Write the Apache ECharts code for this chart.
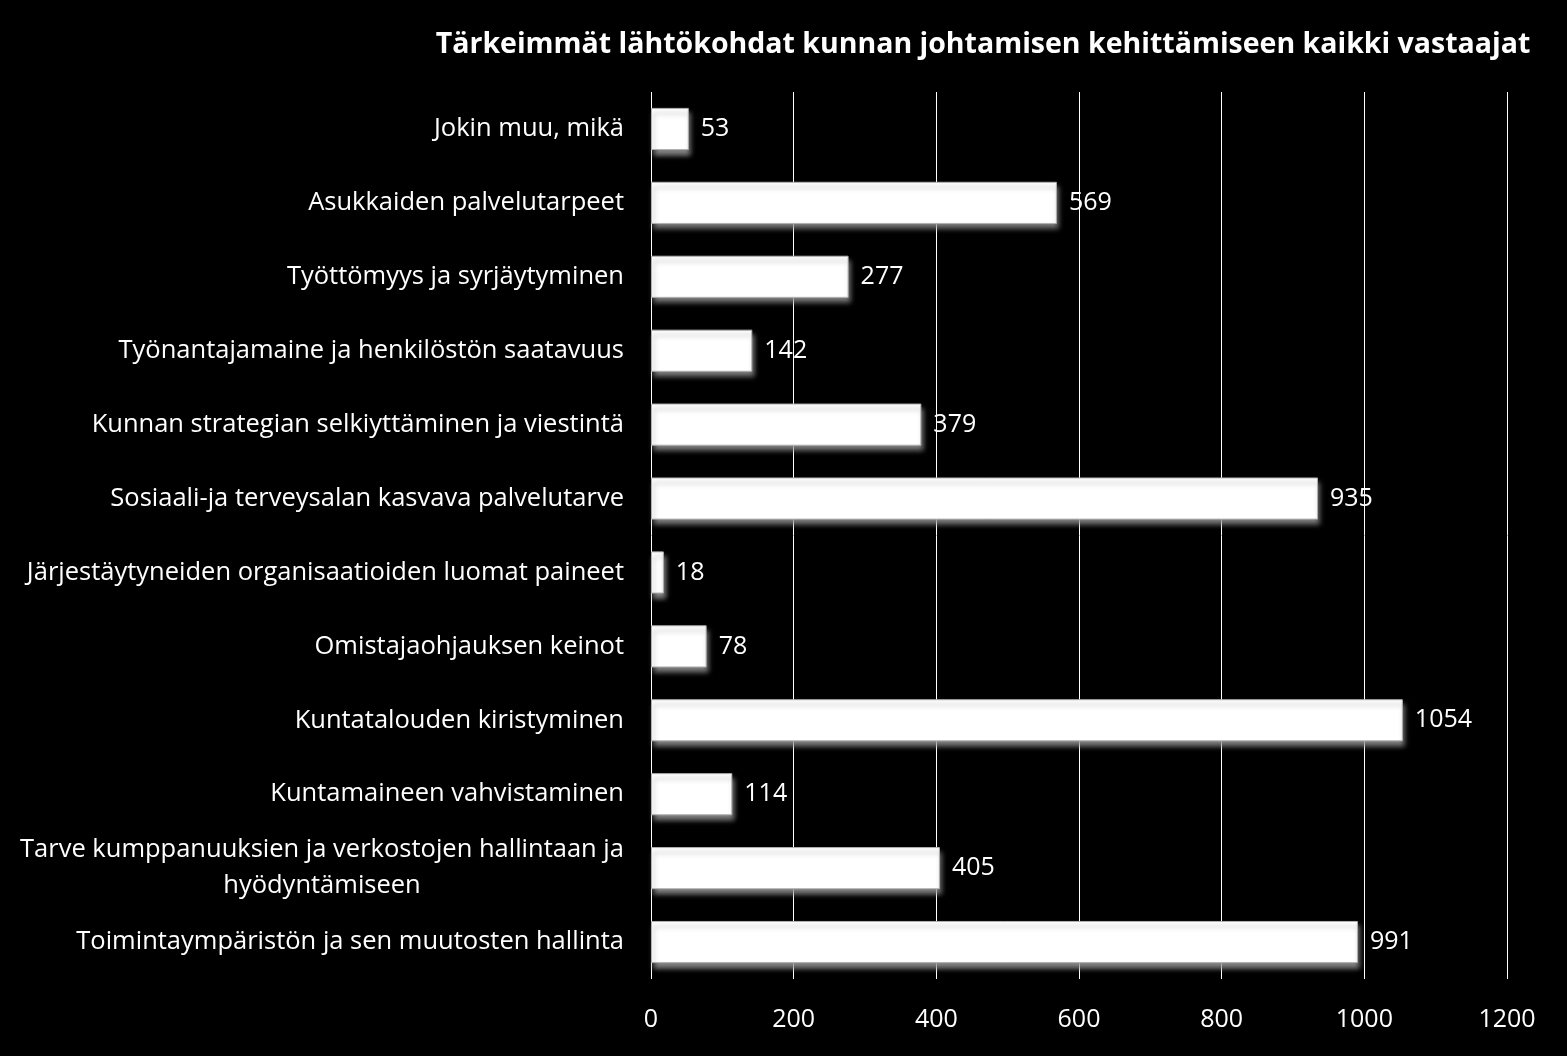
<!DOCTYPE html>
<html>
<head>
<meta charset="utf-8">
<script src="https://cdn.jsdelivr.net/npm/echarts@6/dist/echarts.min.js"></script>
<style>
html,body{margin:0;padding:0;background:#000;}
#chart{width:1567px;height:1056px;}
</style>
</head>
<body>
<div id="chart"></div>
<script>
const titleText = 'Tärkeimmät lähtökohdat kunnan johtamisen kehittämiseen kaikki vastaajat';
// listed top to bottom as in the picture
const categories = [
  'Jokin muu, mikä',
  'Asukkaiden palvelutarpeet',
  'Työttömyys ja syrjäytyminen',
  'Työnantajamaine ja henkilöstön saatavuus',
  'Kunnan strategian selkiyttäminen ja viestintä',
  'Sosiaali-ja terveysalan kasvava palvelutarve',
  'Järjestäytyneiden organisaatioiden luomat paineet',
  'Omistajaohjauksen keinot',
  'Kuntatalouden kiristyminen',
  'Kuntamaineen vahvistaminen',
  'Tarve kumppanuuksien ja verkostojen hallintaan ja\nhyödyntämiseen',
  'Toimintaympäristön ja sen muutosten hallinta'
];
const values = [53, 569, 277, 142, 379, 935, 18, 78, 1054, 114, 405, 991];
const xTicks = [0, 200, 400, 600, 800, 1000, 1200];

const FONT = 'Open Sans';
const CAT_SIZE = 25.5;

// width of the longest line of the wrapped label, for centring its lines
function measure(text, size, weight) {
  const c = document.createElement('canvas').getContext('2d');
  c.font = (weight || 'normal') + ' ' + size + 'px "' + FONT + '"';
  return Math.ceil(c.measureText(text).width);
}

const chart = echarts.init(document.getElementById('chart'));
chart.setOption({
  backgroundColor: '#000',
  animation: false,
  title: {
    text: titleText,
    left: 978,
    textAlign: 'center',
    top: 25,
    textStyle: {color: '#fff', fontFamily: FONT, fontWeight: 'bold', fontSize: 28.5}
  },
  grid: {left: 651, right: 60, top: 92, bottom: 77, containLabel: false},
  xAxis: {
    type: 'value',
    min: xTicks[0],
    max: xTicks[xTicks.length - 1],
    interval: 200,
    axisLine: {show: false},
    axisTick: {show: false},
    splitLine: {show: true, lineStyle: {color: '#ffffff', width: 1}},
    axisLabel: {color: '#fff', fontFamily: FONT, fontSize: 25, margin: 28,
      formatter: v => String(v)}
  },
  yAxis: {
    type: 'category',
    inverse: true,
    data: categories,
    axisLine: {show: false},
    axisTick: {show: false},
    axisLabel: {
      color: '#fff', fontFamily: FONT, fontSize: CAT_SIZE, margin: 27,
      lineHeight: 36,
      formatter: function (v) {
        if (v.indexOf('\n') >= 0) {
          const lines = v.split('\n');
          return lines.map(s => '{c|' + s + '}').join('\n');
        }
        return v;
      },
      rich: {c: {color: '#fff', fontFamily: FONT, fontSize: CAT_SIZE,
        width: measure(categories[10].split('\n')[0], CAT_SIZE),
        align: 'center', lineHeight: 36}}
    }
  },
  series: [{
    type: 'bar',
    data: values,
    barCategoryGap: '43%',
    itemStyle: {
      color: '#fff',
      borderColor: '#b0b0b0',
      borderWidth: 1,
      shadowColor: 'rgba(150,150,150,0.9)',
      shadowBlur: 5,
      shadowOffsetX: 2,
      shadowOffsetY: 5
    },
    label: {
      show: true,
      position: 'right',
      distance: 12,
      color: '#fff',
      fontFamily: FONT,
      fontSize: 25
    }
  }]
});
</script>
</body>
</html>
